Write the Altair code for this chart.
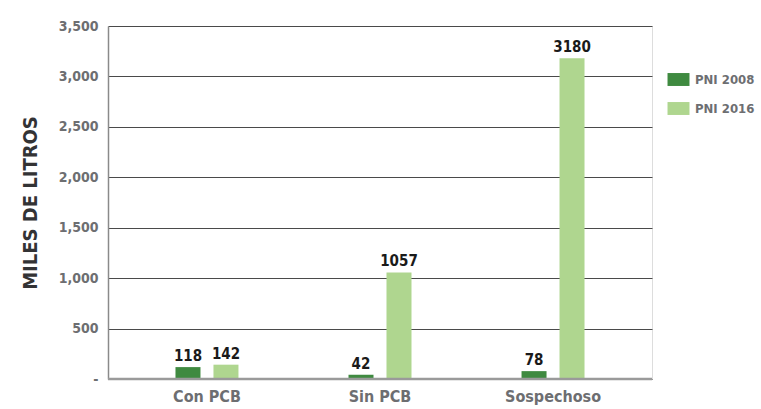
import altair as alt
import pandas as pd

categories = ["Con PCB", "Sin PCB", "Sospechoso"]
series = ["PNI 2008", "PNI 2016"]
values_2008 = [118, 42, 78]
values_2016 = [142, 1057, 3180]
y_ticks = [0, 500, 1000, 1500, 2000, 2500, 3000, 3500]
colors = ["#3f8a40", "#afd68f"]

rows = []
for c, a, b in zip(categories, values_2008, values_2016):
    rows.append({"cat": c, "serie": series[0], "val": a})
    rows.append({"cat": c, "serie": series[1], "val": b})
df = pd.DataFrame(rows)

FONT = "DejaVu Sans Condensed, DejaVu Sans, sans-serif"

x = alt.X("cat:N", sort=categories, title=None,
          scale=alt.Scale(paddingInner=0.636, paddingOuter=0.39),
          axis=alt.Axis(labelAngle=0, labelFont=FONT, labelFontSize=16, labelFontWeight="bold",
                        labelColor="#6d6e71", ticks=False, domain=False, labelPadding=9))
xo = alt.XOffset("serie:N", sort=series,
                 scale=alt.Scale(paddingInner=0.342, paddingOuter=0))
y = alt.Y("val:Q", title="MILES DE LITROS",
          scale=alt.Scale(domain=[0, 3500], nice=False),
          axis=alt.Axis(values=y_ticks, labelExpr="datum.value == 0 ? '-' : format(datum.value, ',')",
                        labelFont=FONT, labelFontSize=14, labelFontWeight="bold", labelColor="#6d6e71",
                        ticks=False, labelPadding=10, domainColor="#8a8a8a", domainWidth=1.5,
                        gridColor="#4a4a4a", gridWidth=1,
                        titleFont=FONT, titleFontSize=20, titleFontWeight="bold", titleColor="#333335",
                        titlePadding=18))

RECT = "M-1.7,-1L1.7,-1L1.7,1L-1.7,1Z"
bars = alt.Chart(df).mark_bar(size=25).encode(
    x=x, xOffset=xo, y=y,
    color=alt.Color("serie:N", sort=series, scale=alt.Scale(domain=series, range=colors),
                    legend=alt.Legend(title=None, orient="none", legendX=564, legendY=47,
                                      symbolType=RECT, symbolSize=167, symbolStrokeWidth=0,
                                      symbolOpacity=1,
                                      labelFont=FONT, labelFontSize=13, labelFontWeight="bold",
                                      labelColor="#6d6e71", rowPadding=15, labelOffset=10)),
)

labels = alt.Chart(df).mark_text(dy=-11, font=FONT, fontSize=15, fontWeight="bold", color="#1a1a1a").encode(
    x=x, xOffset=xo, y=y, text=alt.Text("val:Q", format="d"),
)

base = alt.Chart(pd.DataFrame({"v": [0]})).mark_rule(color="#9a9a9a", strokeWidth=2.5).encode(
    y=alt.Y("v:Q", scale=alt.Scale(domain=[0, 3500], nice=False)),
    x=alt.value(0), x2=alt.value(544),
)

chart = alt.layer(bars, labels, base).properties(
    width=544, height=353,
    autosize=alt.AutoSizeParams(type="none"),
    padding={"left": 108, "top": 26, "right": 109, "bottom": 30},
).configure_view(stroke=None).configure(background="white")

chart.save("out.html", embed_options={"renderer": "svg", "actions": False})
